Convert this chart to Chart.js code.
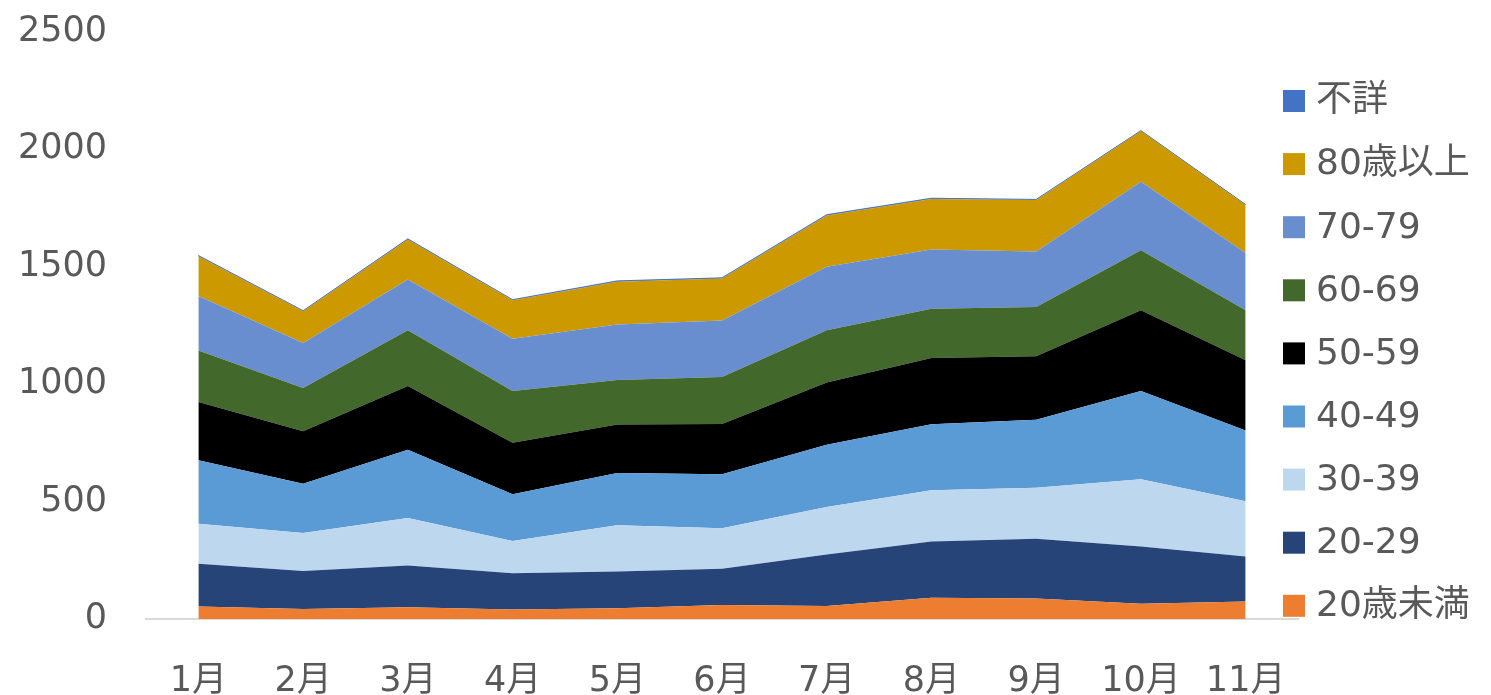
<!DOCTYPE html>
<html lang="ja">
<head>
<meta charset="utf-8">
<title>年代別 推移</title>
<script src="https://cdn.jsdelivr.net/npm/chart.js@4.4.1/dist/chart.umd.min.js"></script>
<style>
  html, body { margin: 0; padding: 0; background: #fff; }
  #wrap { width: 1491px; height: 695px; position: relative; }
</style>
</head>
<body>
<div id="wrap"><canvas id="ageChart"></canvas></div>
<script>
// ==========================
// DATA
// ==========================
const months = ["1月", "2月", "3月", "4月", "5月", "6月", "7月", "8月", "9月", "10月", "11月"];

const under20 = [53, 43, 50, 40, 46, 60, 55, 90, 87, 65, 75];
const age20s = [182, 161, 178, 155, 156, 154, 220, 240, 255, 244, 191];
const age30s = [171, 162, 202, 137, 197, 173, 202, 218, 217, 286, 235];
const age40s = [270, 210, 291, 199, 223, 229, 265, 281, 290, 376, 302];
const age50s = [248, 224, 271, 220, 206, 214, 265, 283, 270, 344, 299];
const age60s = [220, 184, 238, 220, 190, 201, 223, 209, 210, 256, 213];
const age70s = [232, 192, 216, 223, 236, 240, 270, 253, 236, 291, 244];
const over80 = [169, 135, 170, 164, 182, 179, 219, 215, 219, 216, 204];
const unknown = [3, 2, 3, 2, 4, 3, 3, 3, 3, 2, 2];

const yTicks = [0, 500, 1000, 1500, 2000, 2500];

const FONT = "'DejaVu Sans', 'Noto Sans CJK JP', sans-serif";
const TEXT = "#595959";

// bottom to top
const series = [
  { label: "20歳未満", data: under20, color: "#ED7D31" },
  { label: "20-29", data: age20s, color: "#264478" },
  { label: "30-39", data: age30s, color: "#BDD7EE" },
  { label: "40-49", data: age40s, color: "#5B9BD5" },
  { label: "50-59", data: age50s, color: "#000000" },
  { label: "60-69", data: age60s, color: "#43682B" },
  { label: "70-79", data: age70s, color: "#698ED0" },
  { label: "80歳以上", data: over80, color: "#CC9900" },
  { label: "不詳", data: unknown, color: "#4472C4" },
];

// ==========================
// LEGEND (drawn on the canvas, top item = last series)
// ==========================
const sideLegend = {
  id: "sideLegend",
  afterDraw(chart) {
    const c = chart.ctx;
    const items = chart.data.datasets.slice().reverse();
    c.save();
    c.font = "36px " + FONT;
    c.textBaseline = "middle";
    items.forEach((ds, i) => {
      const cy = 101 + i * 63.1;
      c.fillStyle = ds.backgroundColor;
      c.fillRect(1283, cy - 11, 22, 22);
      c.fillStyle = TEXT;
      c.fillText(ds.label, 1316, cy + 1);
    });
    c.restore();
  },
};

// ==========================
// CHART
// ==========================
const ctx = document.getElementById("ageChart");

new Chart(ctx, {
  type: "line",
  data: {
    labels: months,
    datasets: series.map((s, i) => ({
      label: s.label,
      data: s.data,
      backgroundColor: s.color,
      borderColor: s.color,
      borderWidth: i === series.length - 1 ? 1 : 0,
      fill: i === 0 ? "origin" : "-1",
      pointRadius: 0,
      tension: 0,
    })),
  },
  options: {
    responsive: true,
    maintainAspectRatio: false,
    animation: false,
    layout: { padding: { top: 32, right: 193, left: 0, bottom: 0 } },
    plugins: {
      legend: { display: false },
      tooltip: { enabled: false },
    },
    scales: {
      x: {
        offset: true,
        grid: { display: false },
        border: { display: true, color: "#D9D9D9", width: 2 },
        ticks: { color: TEXT, font: { family: FONT, size: 35 }, padding: 34, maxRotation: 0, autoSkip: false },
        afterFit(scale) {
          scale.height = 76;
          scale.paddingLeft = 0;
          scale.paddingRight = 0;
        },
      },
      y: {
        stacked: true,
        min: 0,
        max: 2500,
        grid: { display: false },
        border: { display: false },
        afterBuildTicks(scale) { scale.ticks = yTicks.map((v) => ({ value: v })); },
        ticks: {
          color: TEXT,
          font: { family: FONT, size: 35 },
          padding: 31,
          callback: (v) => String(v),
        },
        afterFit(scale) {
          scale.width = 146;
          scale.paddingTop = 0;
          scale.paddingBottom = 0;
        },
      },
    },
  },
  plugins: [sideLegend],
});
</script>
</body>
</html>
